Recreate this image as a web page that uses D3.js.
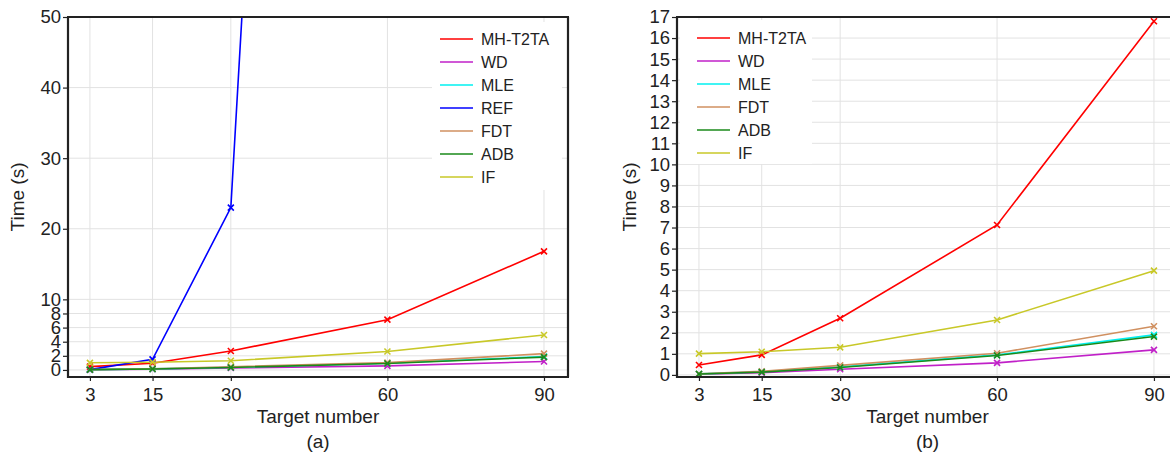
<!DOCTYPE html>
<html>
<head>
<meta charset="utf-8">
<script src="https://cdn.jsdelivr.net/npm/d3@7"></script>
<style>
  html, body { margin: 0; padding: 0; background: #fff; }
  svg { display: block; font-family: "Liberation Sans", Arial, Helvetica, sans-serif; }
</style>
</head>
<body>
<svg id="chart" width="1170" height="456"></svg>
<script>
// ---------- data ----------
const targets = [3, 15, 30, 60, 90];
const mhT2ta = [0.47, 0.95, 2.69, 7.12, 16.8];
const wd     = [0.03, 0.10, 0.27, 0.57, 1.19];
const mle    = [0.05, 0.15, 0.38, 0.95, 1.90];
const refv   = [0.05, 1.5, 23.0, 406, 1300];
const fdt    = [0.05, 0.17, 0.45, 1.03, 2.31];
const adb    = [0.04, 0.13, 0.35, 0.92, 1.82];
const ifv    = [1.01, 1.10, 1.31, 2.61, 4.95];

const seriesNames  = ["MH-T2TA", "WD", "MLE", "REF", "FDT", "ADB", "IF"];
const seriesValues = [mhT2ta, wd, mle, refv, fdt, adb, ifv];
const seriesColors = ["#ff0000", "#c020c8", "#00f0f0", "#0000ff", "#d09060", "#1a8a1a", "#c8c828"];

const yTicksA = [0, 2, 4, 6, 8, 10, 20, 30, 40, 50];
const yTicksB = d3.range(0, 18);

const panels = [
  { id: "a", label: "(a)", x0: 68, x1: 568, yDomain: [-1, 50], yTicks: yTicksA,
    include: ["MH-T2TA", "WD", "MLE", "REF", "FDT", "ADB", "IF"],
    legend: { x: 432, y: 22, w: 130, h: 168, lx: 440, ty: 39 }, rightBorder: true, yTitleX: 24 },
  { id: "b", label: "(b)", x0: 677, x1: 1178, yDomain: [-0.1, 17], yTicks: yTicksB,
    include: ["MH-T2TA", "WD", "MLE", "FDT", "ADB", "IF"],
    legend: { x: 680, y: 20, w: 132, h: 144, lx: 697, ty: 38 }, rightBorder: false, yTitleX: 636 }
];

const svg = d3.select("#chart");
const yTop = 17, yBot = 377;
const axisColor = "#222";

panels.forEach(p => {
  const x = d3.scaleLinear().domain([-1.2, 94.6]).range([p.x0, p.x1]);
  const y = d3.scaleLinear().domain(p.yDomain).range([yBot, yTop]);
  const g = svg.append("g");

  const clipId = "clip-" + p.id;
  svg.append("clipPath").attr("id", clipId)
    .append("rect").attr("x", p.x0).attr("y", yTop).attr("width", p.x1 - p.x0).attr("height", yBot - yTop);

  // grid
  const grid = g.append("g").attr("clip-path", `url(#${clipId})`);
  grid.selectAll("line.v").data(targets).join("line")
    .attr("x1", d => x(d)).attr("x2", d => x(d)).attr("y1", yTop).attr("y2", yBot)
    .attr("stroke", "#e2e2e2").attr("stroke-width", 1);
  grid.selectAll("line.h").data(p.yTicks).join("line")
    .attr("x1", p.x0).attr("x2", p.x1).attr("y1", d => y(d)).attr("y2", d => y(d))
    .attr("stroke", "#e2e2e2").attr("stroke-width", 1);

  // legend background (covers grid)
  g.append("rect").attr("x", p.legend.x).attr("y", p.legend.y)
    .attr("width", p.legend.w).attr("height", p.legend.h).attr("fill", "#fff");

  // series
  const plot = g.append("g").attr("clip-path", `url(#${clipId})`);
  const line = d3.line().x((d, i) => x(targets[i])).y(d => y(d));
  const ms = 3;
  seriesNames.forEach((name, si) => {
    if (!p.include.includes(name)) return;
    const vals = seriesValues[si];
    const col = seriesColors[si];
    plot.append("path").datum(vals).attr("d", line)
      .attr("fill", "none").attr("stroke", col).attr("stroke-width", 1.6);
    plot.selectAll(null).data(vals).join("path")
      .attr("d", (d, i) => {
        const cx = x(targets[i]), cy = y(d);
        return `M${cx - ms},${cy - ms}L${cx + ms},${cy + ms}M${cx - ms},${cy + ms}L${cx + ms},${cy - ms}`;
      })
      .attr("stroke", col).attr("stroke-width", 1.6).attr("fill", "none");
  });

  // axes
  const yAxis = d3.axisLeft(y).tickValues(p.yTicks).tickSize(5).tickPadding(2).tickFormat(d3.format("d"));
  const ya = g.append("g").attr("transform", `translate(${p.x0},0)`).call(yAxis);
  const xAxis = d3.axisBottom(x).tickValues(targets).tickSize(4).tickPadding(7).tickFormat(d3.format("d"));
  const xa = g.append("g").attr("transform", `translate(0,${yBot})`).call(xAxis);
  [ya, xa].forEach(a => {
    a.select(".domain").remove();
    a.selectAll(".tick line").attr("stroke", axisColor).attr("stroke-width", 1.2);
    a.selectAll(".tick text").attr("fill", axisColor).style("font-size", "18.5px");
  });

  // frame
  const frameW = 2.2;
  g.append("line").attr("x1", p.x0).attr("x2", p.x0).attr("y1", yTop).attr("y2", yBot + 1)
    .attr("stroke", axisColor).attr("stroke-width", frameW);
  g.append("line").attr("x1", p.x0 - 1).attr("x2", p.x1 + 1).attr("y1", yBot).attr("y2", yBot)
    .attr("stroke", axisColor).attr("stroke-width", frameW);
  g.append("line").attr("x1", p.x0 - 1).attr("x2", p.x1 + 1).attr("y1", yTop).attr("y2", yTop)
    .attr("stroke", axisColor).attr("stroke-width", frameW);
  if (p.rightBorder) {
    g.append("line").attr("x1", p.x1).attr("x2", p.x1).attr("y1", yTop).attr("y2", yBot)
      .attr("stroke", axisColor).attr("stroke-width", frameW);
  }

  // legend entries
  const leg = g.append("g");
  let row = 0;
  seriesNames.forEach((name, si) => {
    if (!p.include.includes(name)) return;
    const ly = p.legend.ty + row * 23;
    leg.append("line").attr("x1", p.legend.lx).attr("x2", p.legend.lx + 33)
      .attr("y1", ly).attr("y2", ly).attr("stroke", seriesColors[si]).attr("stroke-width", 1.6);
    leg.append("text").attr("x", p.legend.lx + 41).attr("y", ly).attr("dy", "0.36em")
      .attr("fill", axisColor).style("font-size", "16px").text(name);
    row++;
  });

  // titles
  const cx = (p.x0 + p.x1) / 2;
  g.append("text").attr("x", cx).attr("y", 423).attr("text-anchor", "middle")
    .attr("fill", axisColor).style("font-size", "19px").text("Target number");
  g.append("text").attr("x", cx).attr("y", 448).attr("text-anchor", "middle")
    .attr("fill", axisColor).style("font-size", "19px").text(p.label);
  g.append("text").attr("transform", `translate(${p.yTitleX},${(yTop + yBot) / 2}) rotate(-90)`)
    .attr("text-anchor", "middle").attr("fill", axisColor).style("font-size", "19px").text("Time (s)");
});
</script>
</body>
</html>
